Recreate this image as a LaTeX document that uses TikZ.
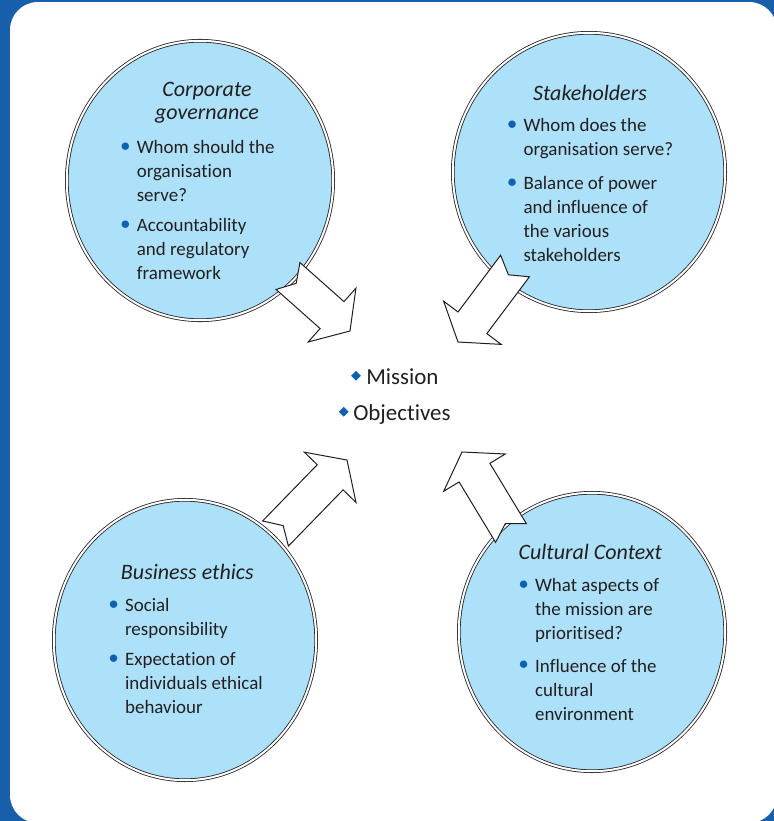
\documentclass[tikz,border=0pt]{standalone}
\usepackage{fontspec}
\setmainfont{Carlito}[Ligatures={NoCommon}]
\usetikzlibrary{calc,positioning,shapes.geometric}

\definecolor{framebl}{RGB}{24,95,170}
\definecolor{discbl}{RGB}{173,225,249}
\definecolor{dotbl}{RGB}{14,96,178}
\definecolor{inkgr}{RGB}{35,31,32}

\newcommand{\bul}{\textcolor{dotbl}{\raisebox{1.6pt}{$\bullet$}}}

\begin{document}
\begin{tikzpicture}[x=0.75pt, y=-0.75pt, inner sep=0pt, text=inkgr,
    topic/.style 2 args={ellipse, draw=inkgr, line width=0.6pt, double=white,
                  double distance=1.5pt, fill=discbl,
                  minimum width=#1, minimum height=#2},
    heading/.style={anchor=base, font=\fontsize{16.5}{17.6}\selectfont\itshape},
    points/.style={anchor=base west, font=\fontsize{14.2}{18}\selectfont},
    core/.style={anchor=base west, font=\fontsize{17.2}{20}\selectfont},
    gem/.style={diamond, fill=dotbl, minimum size=7.5pt},
    fatarrow/.style={draw=inkgr, fill=white, line width=0.75pt, line join=miter,
      to path={let \p1=(\tikztostart), \p2=(\tikztotarget),
        \n1={atan2(\y2-\y1,\x2-\x1)}, \n2={veclen(\x2-\x1,\y2-\y1)-18} in
        ($(\p1)+({\n1+90}:13.5pt)$) -- ($(\p1)+(\n1:\n2)+({\n1+90}:13.5pt)$)
        -- ($(\p1)+(\n1:\n2)+({\n1+90}:27pt)$) -- (\p2)
        -- ($(\p1)+(\n1:\n2)+({\n1-90}:27pt)$)
        -- ($(\p1)+(\n1:\n2)+({\n1-90}:13.5pt)$)
        -- ($(\p1)+({\n1-90}:13.5pt)$) -- ($(\p1)+(\n1:8.25pt)$) -- cycle}}]
    \useasboundingbox (0,0) rectangle (774,821);

    % frame
    \fill[framebl] (0,0) rectangle (774,821);
    \fill[white, rounded corners=21pt] (10,2) rectangle (777,823);

    % the four ovals
    \node[topic={199.8pt}{209.6pt}] (cg) at (200,180.5) {};
    \node[topic={204.3pt}{208.8pt}] (sh) at (589,172) {};
    \node[topic={196.8pt}{210.3pt}] (be) at (185,640) {};
    \node[topic={199.8pt}{208.8pt}] (cc) at (592,632) {};

    \node[heading] (cg-title) at (207,96.5)
        {\begin{tabular}[t]{@{}c@{}}Corporate\\governance\end{tabular}};
    \node[points] (cg-list) at (120.3,153.3)
        {\begin{tabular}[t]{@{}l@{\hspace{5pt}}l@{}}
          \bul & Whom should the\\ & organisation\\ & serve?\\[4.9pt]
          \bul & Accountability\\ & and regulatory\\ & framework
         \end{tabular}};

    \node[heading] (sh-title) at (590,100.7) {Stakeholders};
    \node[points] (sh-list) at (507,131.7)
        {\begin{tabular}[t]{@{}l@{\hspace{5pt}}l@{}}
          \bul & Whom does the\\ & organisation serve?\\[7.5pt]
          \bul & Balance of power\\ & and influence of\\ & the various\\
               & stakeholders
         \end{tabular}};

    \node[heading] (be-title) at (187.3,579.3) {Business ethics};
    \node[points] (be-list) at (108.6,611.7)
        {\begin{tabular}[t]{@{}l@{\hspace{5pt}}l@{}}
          \bul & Social\\ & responsibility\\[4.5pt]
          \bul & Expectation of\\ & individuals ethical\\ & behaviour
         \end{tabular}};

    \node[heading] (cc-title) at (590.3,559.3) {Cultural Context};
    \node[points] (cc-list) at (518.6,591.7)
        {\begin{tabular}[t]{@{}l@{\hspace{5pt}}l@{}}
          \bul & What aspects of\\ & the mission are\\ & prioritised?\\[6.3pt]
          \bul & Influence of the\\ & cultural\\ & environment
         \end{tabular}};

    % centre
    \node[core] (mis) at (366,384) {Mission};
    \node[core] (obj) at (353,420) {Objectives};
    \node[gem, left=3.5pt of mis.base west, yshift=6.2pt] (gem1) {};
    \node[gem, left=3pt of obj.base west, yshift=6.2pt]   (gem2) {};

    % arrows
    \coordinate (cg-tail) at (288,276);
    \coordinate (cg-tip)  at (350,331);
    \coordinate (sh-tail) at (515,266);
    \coordinate (sh-tip)  at (458,342);
    \coordinate (be-tail) at (275.5,533.5);
    \coordinate (be-tip)  at (347,460);
    \coordinate (cc-tail) at (511,533);
    \coordinate (cc-tip)  at (462,452);

    \draw[fatarrow] (cg-tail) to (cg-tip);
    \draw[fatarrow] (sh-tail) to (sh-tip);
    \draw[fatarrow] (be-tail) to (be-tip);
    \draw[fatarrow] (cc-tail) to (cc-tip);
\end{tikzpicture}
\end{document}
